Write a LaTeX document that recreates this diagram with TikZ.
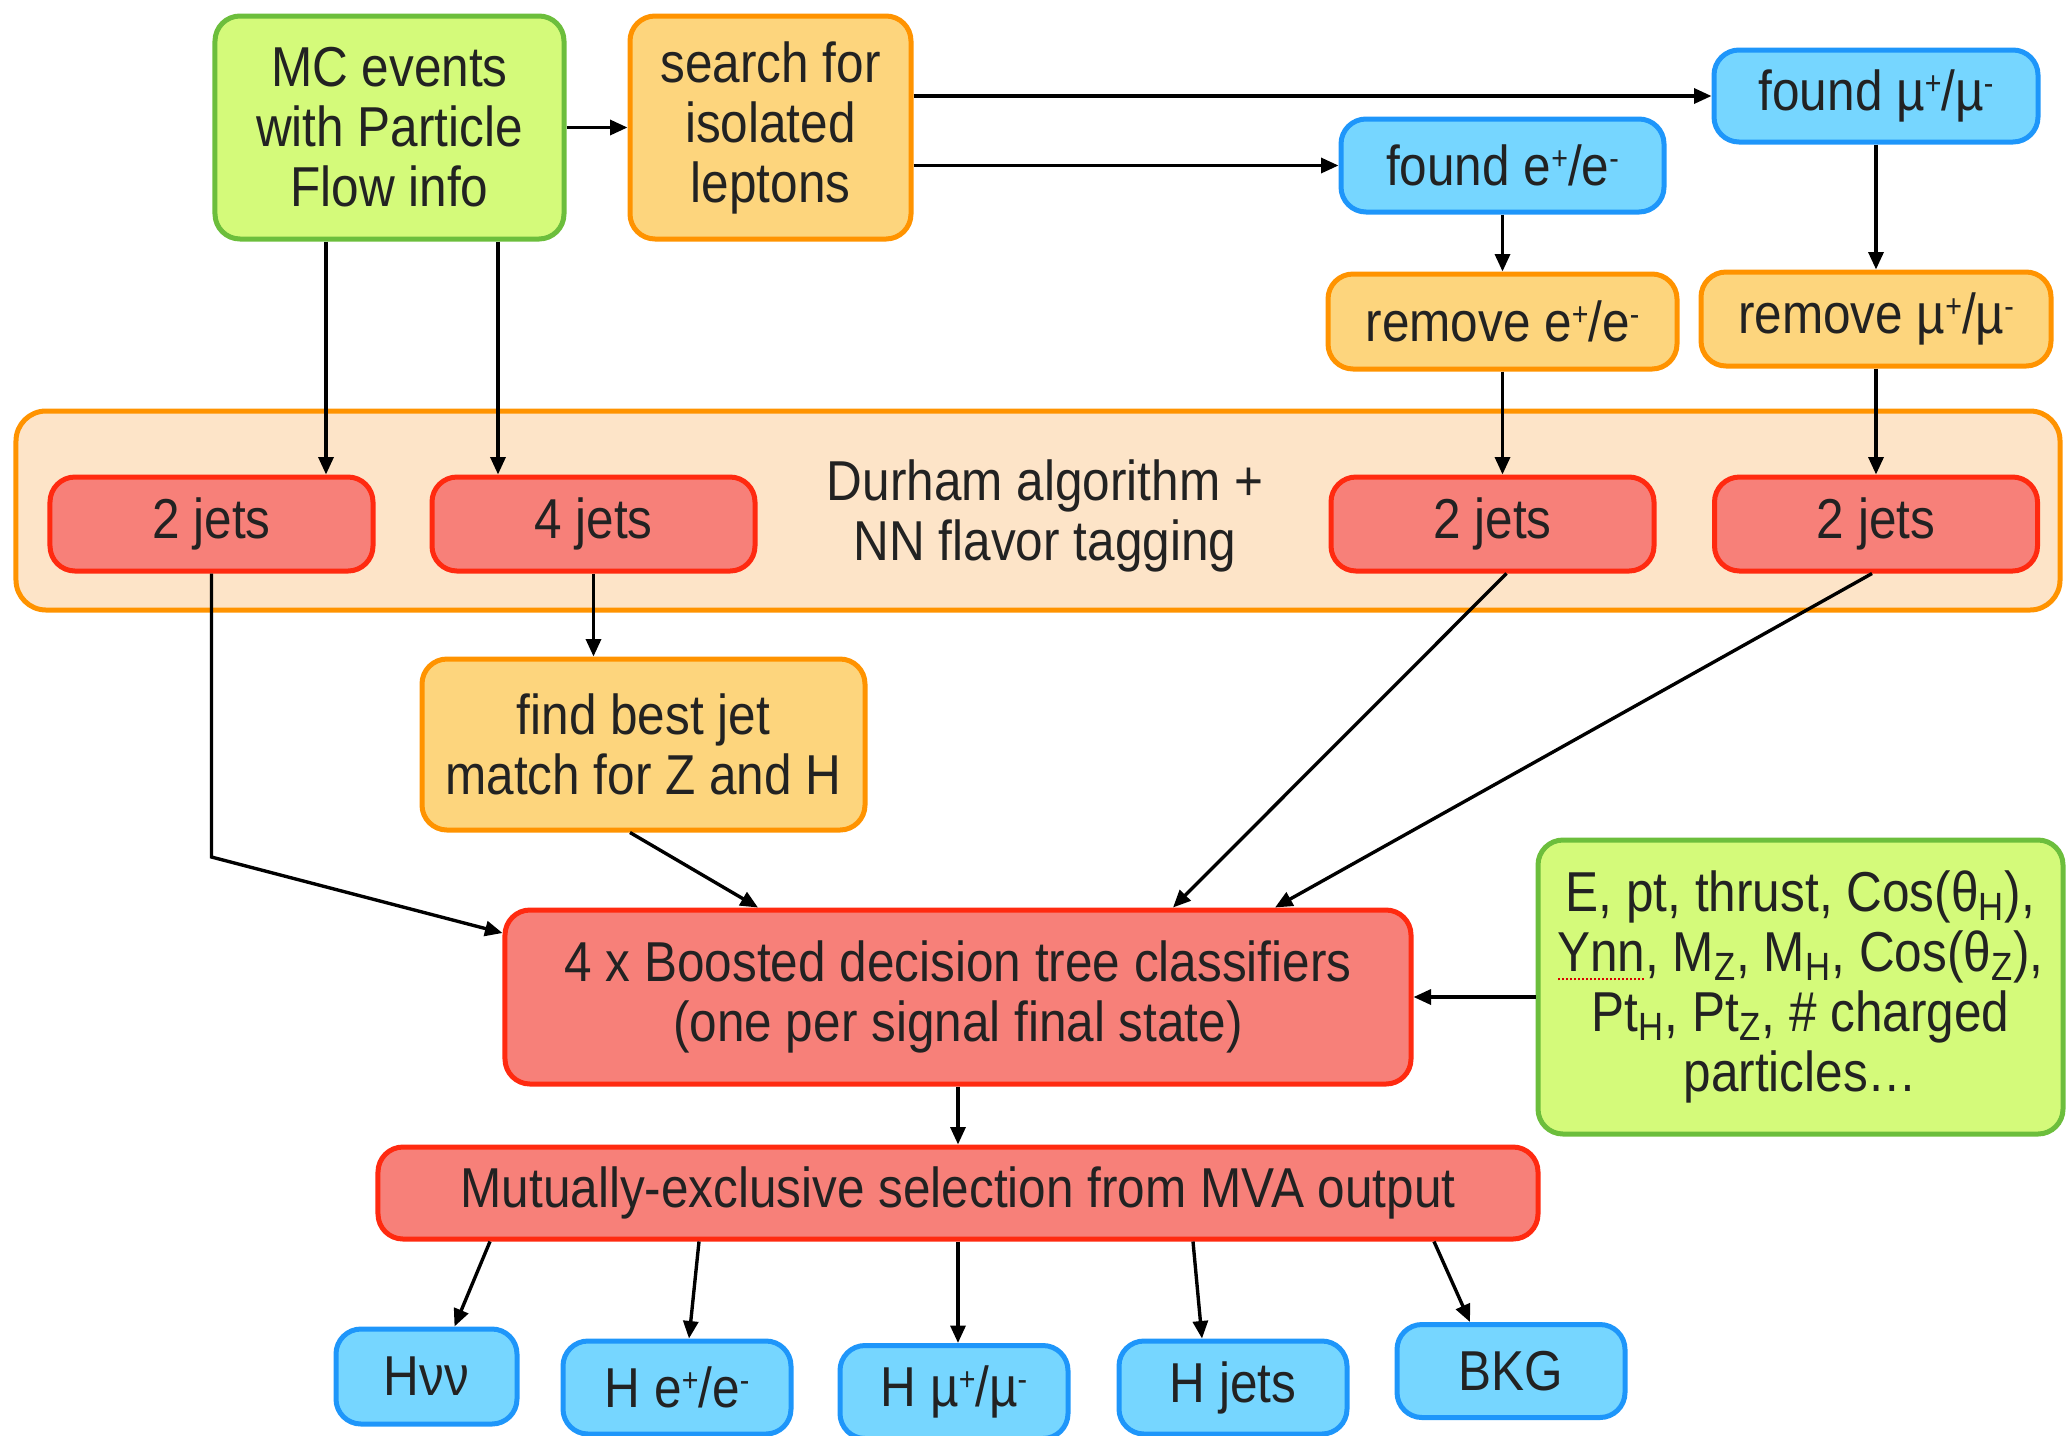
\documentclass[tikz,border=0pt]{standalone}
\usepackage{fontspec}
\setmainfont{Liberation Sans}[FakeStretch=0.88]
\usetikzlibrary{arrows.meta,calc}
\definecolor{gfill}{HTML}{D4FA7A}
\definecolor{gline}{HTML}{6CBE3C}
\definecolor{ofill}{HTML}{FDD57D}
\definecolor{oline}{HTML}{FF9300}
\definecolor{bfill}{HTML}{76D6FF}
\definecolor{bline}{HTML}{1E96FA}
\definecolor{rfill}{HTML}{F78079}
\definecolor{rline}{HTML}{FF2A10}
\definecolor{pfill}{HTML}{FDE4C8}
\definecolor{txt}{HTML}{222222}
\newcommand\spellerr[1]{\setbox0\hbox{#1}\rlap{\color{red!85!black}\raisebox{-3.5pt}{\leaders\hbox to 1.6pt{\hss\rule{0.8pt}{0.8pt}\hss}\hskip\wd0}}\box0}
\newcommand\sps[1]{\raisebox{6.5pt}{\fontsize{13}{13}\selectfont #1}}
\begin{document}
\begin{tikzpicture}[x=0.4pt,y=-0.4pt,
  font=\fontsize{22.5}{24}\selectfont,
  box/.style={draw, rounded corners=10pt, line width=2pt, align=center, inner sep=2pt, text=txt},
  gbox/.style={box, fill=gfill, draw=gline},
  obox/.style={box, fill=ofill, draw=oline},
  bbox/.style={box, fill=bfill, draw=bline},
  rbox/.style={box, fill=rfill, draw=rline},
  arr/.style={draw=black, line width=1.35pt, -{Triangle[length=7pt,width=6pt]}}]
\useasboundingbox (0,0) rectangle (2067,1435);

% band
\node[box, fill=pfill, draw=oline, minimum width=817.6pt, minimum height=79.6pt, rounded corners=12pt] (band) at (1038,510.5) {};
\node[text=txt, align=center] (durham) at (1045,516) {Durham algorithm +\\NN flavor tagging};

% top row
\node[gbox, minimum width=139.6pt, minimum height=89.2pt] (mc) at (389.5,127.5) {MC events\\with Particle\\Flow info};
\node[obox, minimum width=112.4pt, minimum height=89.2pt] (search) at (770.5,127.5) {search for\\isolated\\leptons};
\node[bbox, minimum width=129.6pt, minimum height=36.8pt] (fmu) at (1876,96) {found µ\sps{+}/µ\sps{-}};
\node[bbox, minimum width=129.2pt, minimum height=37.2pt] (fe) at (1502.5,165.5) {found e\sps{+}/e\sps{-}};
\node[obox, minimum width=139.6pt, minimum height=38pt] (re) at (1502.5,321.5) {remove e\sps{+}/e\sps{-}};
\node[obox, minimum width=140pt, minimum height=37.6pt] (rmu) at (1876,319) {remove µ\sps{+}/µ\sps{-}};

% jets
\node[rbox, minimum width=129.2pt, minimum height=37.6pt] (j1) at (211.5,524) {2 jets};
\node[rbox, minimum width=129.2pt, minimum height=37.6pt] (j2) at (593.5,524) {4 jets};
\node[rbox, minimum width=129.2pt, minimum height=37.6pt] (j3) at (1492.5,524) {2 jets};
\node[rbox, minimum width=129.2pt, minimum height=37.6pt] (j4) at (1876,524) {2 jets};

% middle
\node[obox, minimum width=177.2pt, minimum height=68.4pt] (best) at (643.5,744.5) {find best jet\\match for Z and H};
\node[rbox, minimum width=362.4pt, minimum height=69.6pt] (bdt) at (958,997) {4 x Boosted decision tree classifiers\\(one per signal final state)};
\node[gbox, minimum width=210pt, minimum height=117.6pt] (vars) at (1800.5,987) {E, pt, thrust, Cos(θ\textsubscript{H}),\\\spellerr{Ynn}, M\textsubscript{Z}, M\textsubscript{H}, Cos(θ\textsubscript{Z}),\\Pt\textsubscript{H}, Pt\textsubscript{Z}, \# charged\\particles…};
\node[rbox, minimum width=464pt, minimum height=36.8pt] (mut) at (958,1193) {Mutually-exclusive selection from MVA output};

% outputs
\node[bbox, minimum width=72.4pt, minimum height=38pt] (hvv) at (426.5,1376.5) {Hνν};
\node[bbox, minimum width=91.2pt, minimum height=37.2pt] (he) at (677,1387.5) {H e\sps{+}/e\sps{-}};
\node[bbox, minimum width=91.2pt, minimum height=37.2pt] (hmu) at (954,1392) {H µ\sps{+}/µ\sps{-}};
\node[bbox, minimum width=91.2pt, minimum height=37.2pt] (hjets) at (1233,1387.5) {H jets};
\node[bbox, minimum width=91.2pt, minimum height=37.2pt] (bkg) at (1511,1371) {BKG};

% connectors
\draw[arr] (mc.east) -- (search.west);
\draw[arr] (search.east |- fmu.west) -- (fmu.west);
\draw[arr] (search.east |- fe.west) -- (fe.west);
\draw[arr] (fe.south) -- (re.north);
\draw[arr] (fmu.south) -- (rmu.north);
\draw[arr] (re.south) -- (re.south |- j3.north);
\draw[arr] (rmu.south) -- (rmu.south |- j4.north);
\coordinate (m1) at ($(mc.south)+(-63.5,0)$);
\coordinate (m2) at ($(mc.south)+(108.5,0)$);
\draw[arr] (m1) -- (m1 |- j1.north);
\draw[arr] (m2) -- (m2 |- j2.north);
\coordinate (k1) at (j1.south |- 0,857);
\draw[arr] (j1.south) -- (k1) -- ($(bdt.west)+(0,-64)$);
\draw[arr] (j2.south) -- (j2.south |- best.north);
\draw[arr] ($(best.south)+(-13.5,0)$) -- ($(bdt.north)+(-200,0)$);
\draw[arr] ($(j3.south)+(14,0)$) -- ($(bdt.north)+(215,0)$);
\draw[arr] ($(j4.south)+(-4,0)$) -- ($(bdt.north)+(317,0)$);
\draw[arr] (vars.west |- bdt.east) -- (bdt.east);
\draw[arr] (bdt.south) -- (mut.north);
\draw[arr] ($(mut.south)+(-468,0)$) -- ($(hvv.north)+(28,0)$);
\draw[arr] ($(mut.south)+(-259,0)$) -- ($(he.north)+(12,0)$);
\draw[arr] (mut.south) -- (mut.south |- hmu.north);
\draw[arr] ($(mut.south)+(235,0)$) -- ($(hjets.north)+(-31,0)$);
\draw[arr] ($(mut.south)+(476,0)$) -- ($(bkg.north)+(-41,0)$);
\end{tikzpicture}
\end{document}
